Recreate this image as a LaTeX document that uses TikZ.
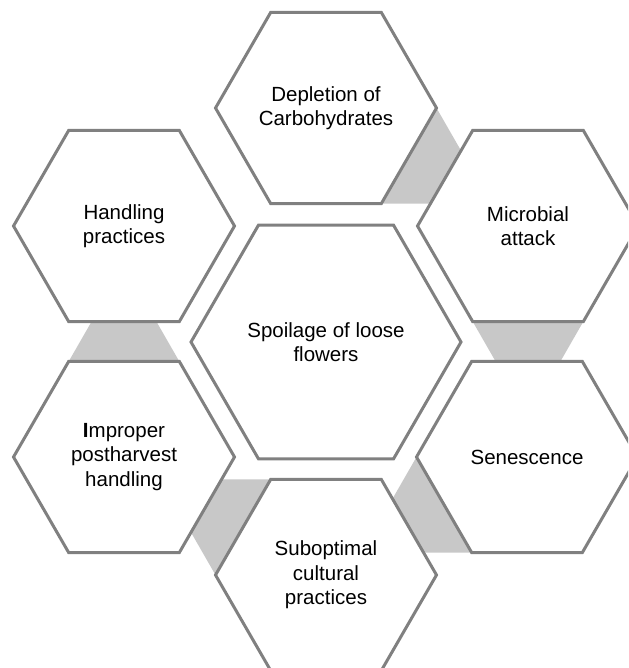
\documentclass[tikz,border=0pt]{standalone}
\usepackage{fontspec}
\setmainfont{Liberation Sans}
\usetikzlibrary{shapes.geometric,calc,backgrounds}

\definecolor{rimgray}{RGB}{128,128,128}
\definecolor{bridgegray}{RGB}{200,200,200}
\newcommand{\hexfont}{\fontsize{20.5}{24.5}\selectfont}

\begin{document}
\begin{tikzpicture}[x=1pt, y=-1pt,
    cell/.style={regular polygon, regular polygon sides=6, minimum size=221pt,
      draw=rimgray, line width=3pt, fill=white, inner sep=0pt, outer sep=0pt,
      align=center, font=\hexfont},
    bridge/.style={fill=bridgegray}]
    \useasboundingbox (0,0) rectangle (628,668);
    \clip (0,0) rectangle (628,668);

    % Centre cell
    \node[cell, minimum size=270pt] (spoil) at (326,342) {Spoilage of loose\\flowers};

    % Ring of causes
    \node[cell] (carb)    at (326,108) {Depletion of\\Carbohydrates};
    \node[cell] (microbe) at (528,226) {Microbial\\attack};
    \node[cell] (senes)   at (527,457) {Senescence};
    \node[cell] (cultur)  at (326,575) {Suboptimal\\cultural\\practices};
    \node[cell] (improp)  at (124,457) {\textbf{I}mproper\\postharvest\\handling};
    \node[cell] (handl)   at (124,226) {Handling\\practices};

    % Grey bridges, tucked under the cells
    % (corner 1 = upper right, then anticlockwise up to corner 6 = right tip)
    \begin{scope}[on background layer]
      \fill[bridge] (carb.corner 6) -- ++(46,80) |- (carb.corner 5) -- cycle;
      \fill[bridge] (microbe.corner 4) -- ++(46,80)
                    -- ($(microbe.corner 5)+(-46,80)$) -- (microbe.corner 5) -- cycle;
      \fill[bridge] (senes.corner 3) -- ++(-46,80) |- (senes.corner 4) -- cycle;
      \fill[bridge] (cultur.corner 2) -- ++(-80,0)
                    -- ($(cultur.corner 3)+(-46,-80)$) -- (cultur.corner 3) -- cycle;
      \fill[bridge] (improp.corner 2) -- ++(46,-80)
                    -- ($(improp.corner 1)+(-46,-80)$) -- (improp.corner 1) -- cycle;
    \end{scope}
\end{tikzpicture}
\end{document}
